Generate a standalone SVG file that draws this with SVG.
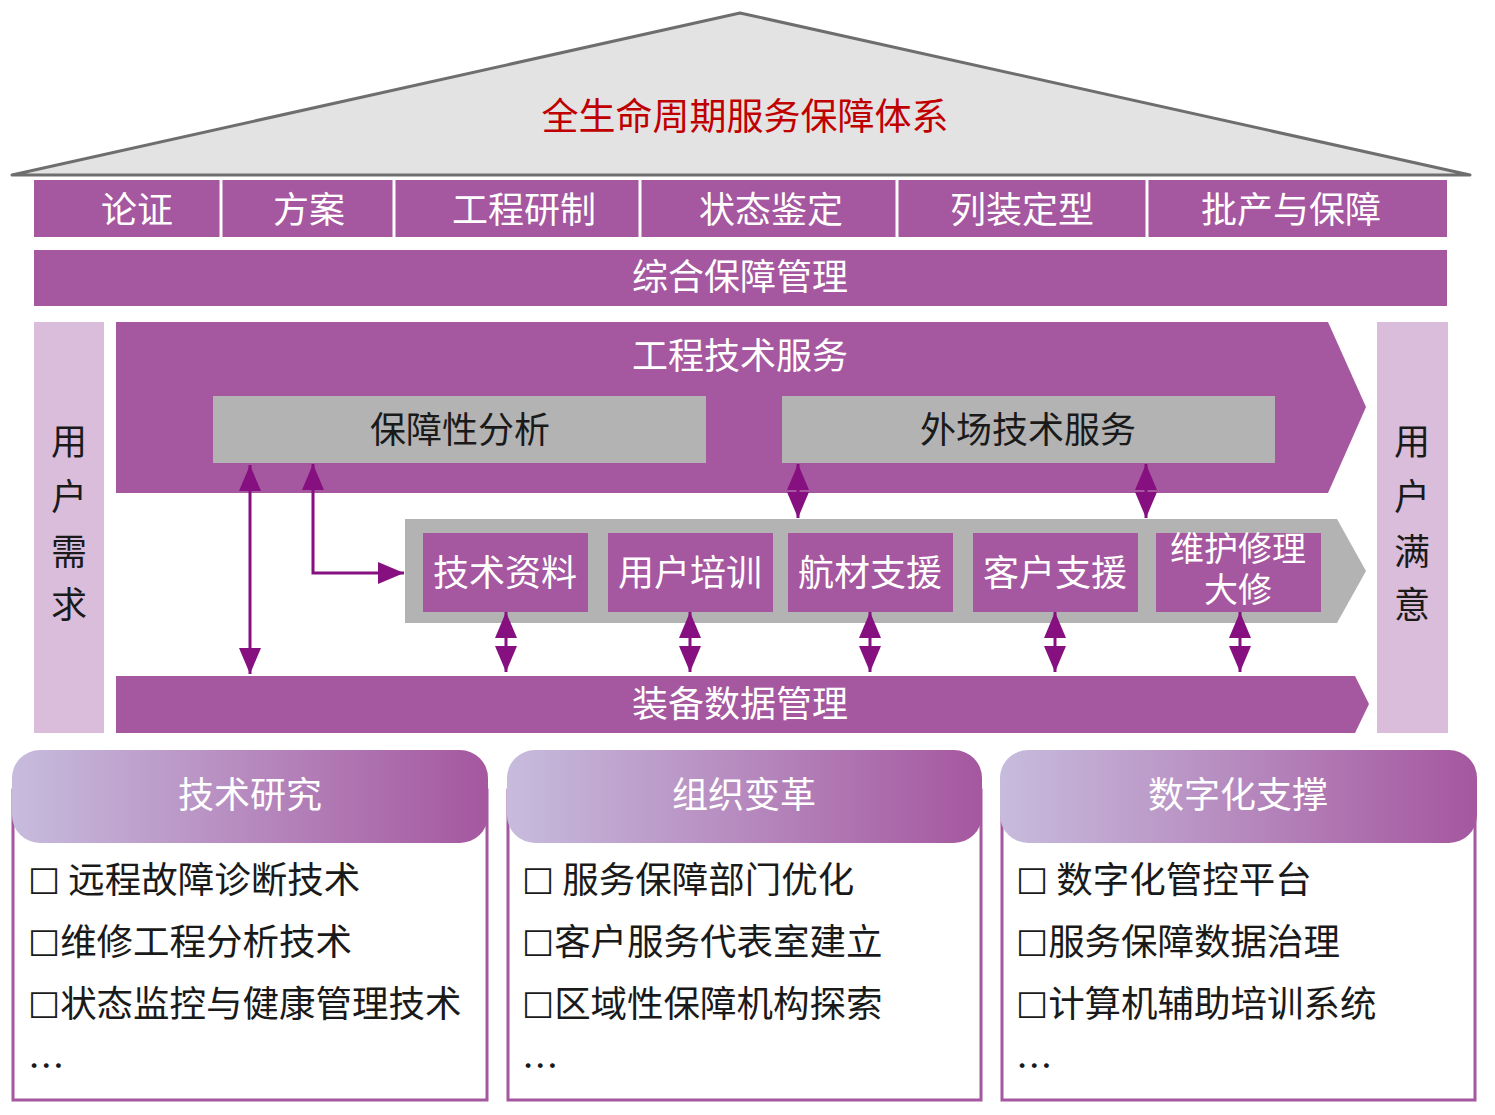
<svg xmlns="http://www.w3.org/2000/svg" width="1495" height="1115" viewBox="0 0 1495 1115">
<style>
text{font-family:"Noto Sans CJK SC","Noto Sans",sans-serif;font-size:36px;text-anchor:middle}
.w{fill:#ffffff}
.k{fill:#1a1a1a}
.it{fill:#1a1a1a;text-anchor:start;font-size:36.5px}
.sq{font-family:"DejaVu Sans",sans-serif;font-size:34px}
.pb{fill:#a5579f}
.lb{fill:#d9bdda}
.gb{fill:#b3b3b3}
.cn{stroke:#86107f;stroke-width:3;fill:none}
.box{fill:#ffffff;stroke:#a5579f;stroke-width:3}
</style>
<defs>
<marker id="ah" viewBox="0 0 26 22" refX="26" refY="11" markerWidth="26" markerHeight="22" markerUnits="userSpaceOnUse" orient="auto-start-reverse">
<path d="M0,0 L26,11 L0,22 Z" fill="#86107f"/>
</marker>
<linearGradient id="hg" x1="0" y1="0" x2="1" y2="0">
<stop offset="0" stop-color="#c7bcdd"/>
<stop offset="1" stop-color="#a5579f"/>
</linearGradient>
</defs>

<g id="roof">
<polygon points="12,175 740,13 1470,175" fill="#e3e3e3" stroke="#6e6e6e" stroke-width="3" stroke-linejoin="round"/>
<text x="745" y="130" style="fill:#c00000;font-size:37px">全生命周期服务保障体系</text>
</g>

<g id="phases">
<rect class="pb" x="34" y="180" width="1413" height="57"/>
<g stroke="#ffffff" stroke-width="3">
<line x1="221" y1="180" x2="221" y2="237"/>
<line x1="394" y1="180" x2="394" y2="237"/>
<line x1="640" y1="180" x2="640" y2="237"/>
<line x1="897" y1="180" x2="897" y2="237"/>
<line x1="1147" y1="180" x2="1147" y2="237"/>
</g>
<text class="w" x="137" y="223">论证</text>
<text class="w" x="309" y="223">方案</text>
<text class="w" x="524" y="223">工程研制</text>
<text class="w" x="771" y="223">状态鉴定</text>
<text class="w" x="1022" y="223">列装定型</text>
<text class="w" x="1291" y="223">批产与保障</text>
</g>

<g id="ils">
<rect class="pb" x="34" y="250" width="1413" height="56"/>
<text class="w" x="740" y="290">综合保障管理</text>
</g>

<g id="user-demand">
<rect class="lb" x="34" y="322" width="70" height="411"/>
<text class="k" x="69" y="455">用</text>
<text class="k" x="69" y="510">户</text>
<text class="k" x="69" y="565">需</text>
<text class="k" x="69" y="618">求</text>
</g>

<g id="user-satisfaction">
<rect class="lb" x="1377" y="322" width="71" height="411"/>
<text class="k" x="1412" y="455">用</text>
<text class="k" x="1412" y="510">户</text>
<text class="k" x="1412" y="565">满</text>
<text class="k" x="1412" y="618">意</text>
</g>

<g id="eng-tech-service">
<polygon class="pb" points="116,322 1328,322 1366,407 1328,493 116,493"/>
<text class="w" x="740" y="369">工程技术服务</text>
</g>

<g id="supportability-analysis">
<rect class="gb" x="213" y="396" width="493" height="67"/>
<text class="k" x="460" y="443">保障性分析</text>
</g>

<g id="field-service">
<rect class="gb" x="782" y="396" width="493" height="67"/>
<text class="k" x="1028" y="443">外场技术服务</text>
</g>

<g id="service-band">
<polygon class="gb" points="405,519 1337,519 1366,571 1337,623 405,623"/>
</g>
<g id="tech-data">
<rect class="pb" x="423" y="533" width="165" height="79"/>
<text class="w" x="505" y="586">技术资料</text>
</g>
<g id="user-training">
<rect class="pb" x="608" y="533" width="165" height="79"/>
<text class="w" x="690" y="586">用户培训</text>
</g>
<g id="spares-support">
<rect class="pb" x="788" y="533" width="165" height="79"/>
<text class="w" x="870" y="586">航材支援</text>
</g>
<g id="customer-support">
<rect class="pb" x="973" y="533" width="165" height="79"/>
<text class="w" x="1055" y="586">客户支援</text>
</g>
<g id="mro">
<rect class="pb" x="1156" y="533" width="165" height="79"/>
<text class="w" x="1238" y="561" style="font-size:34px"><tspan x="1238" y="561">维护修理</tspan><tspan x="1238" y="602">大修</tspan></text>
</g>

<g id="equipment-data">
<polygon class="pb" points="116,676 1355,676 1369,704 1355,733 116,733"/>
<text class="w" x="740" y="717">装备数据管理</text>
</g>

<g id="connectors">
<line class="cn" x1="250" y1="465" x2="250" y2="674" marker-start="url(#ah)" marker-end="url(#ah)"/>
<polyline class="cn" points="313,464 313,573 404,573" marker-start="url(#ah)" marker-end="url(#ah)"/>
<line class="cn" x1="798" y1="464" x2="798" y2="518" marker-start="url(#ah)" marker-end="url(#ah)"/>
<line class="cn" x1="1146" y1="464" x2="1146" y2="518" marker-start="url(#ah)" marker-end="url(#ah)"/>
<line class="cn" x1="506" y1="612" x2="506" y2="672" marker-start="url(#ah)" marker-end="url(#ah)"/>
<line class="cn" x1="690" y1="612" x2="690" y2="672" marker-start="url(#ah)" marker-end="url(#ah)"/>
<line class="cn" x1="870" y1="612" x2="870" y2="672" marker-start="url(#ah)" marker-end="url(#ah)"/>
<line class="cn" x1="1055" y1="612" x2="1055" y2="672" marker-start="url(#ah)" marker-end="url(#ah)"/>
<line class="cn" x1="1240" y1="612" x2="1240" y2="672" marker-start="url(#ah)" marker-end="url(#ah)"/>
</g>

<g id="tech-research">
<rect class="box" x="13" y="790" width="474" height="310"/>
<rect x="12" y="750" width="476" height="93" rx="28" fill="url(#hg)"/>
<text class="w" x="250" y="808">技术研究</text>
<text class="it" x="28" y="893"><tspan class="sq" dy="-3">□</tspan><tspan dy="3"> 远程故障诊断技术</tspan></text>
<text class="it" x="28" y="955"><tspan class="sq" dy="-3">□</tspan><tspan dy="3">维修工程分析技术</tspan></text>
<text class="it" x="28" y="1017"><tspan class="sq" dy="-3">□</tspan><tspan dy="3">状态监控与健康管理技术</tspan></text>
<text class="it" x="28" y="1080">…</text>
</g>

<g id="org-reform">
<rect class="box" x="508" y="790" width="473" height="310"/>
<rect x="507" y="750" width="475" height="93" rx="28" fill="url(#hg)"/>
<text class="w" x="744" y="808">组织变革</text>
<text class="it" x="522" y="893"><tspan class="sq" dy="-3">□</tspan><tspan dy="3"> 服务保障部门优化</tspan></text>
<text class="it" x="522" y="955"><tspan class="sq" dy="-3">□</tspan><tspan dy="3">客户服务代表室建立</tspan></text>
<text class="it" x="522" y="1017"><tspan class="sq" dy="-3">□</tspan><tspan dy="3">区域性保障机构探索</tspan></text>
<text class="it" x="522" y="1080">…</text>
</g>

<g id="digital-support">
<rect class="box" x="1002" y="790" width="473" height="310"/>
<rect x="1000" y="750" width="477" height="93" rx="28" fill="url(#hg)"/>
<text class="w" x="1238" y="808">数字化支撑</text>
<text class="it" x="1016" y="893"><tspan class="sq" dy="-3">□</tspan><tspan dy="3"> 数字化管控平台</tspan></text>
<text class="it" x="1016" y="955"><tspan class="sq" dy="-3">□</tspan><tspan dy="3">服务保障数据治理</tspan></text>
<text class="it" x="1016" y="1017"><tspan class="sq" dy="-3">□</tspan><tspan dy="3">计算机辅助培训系统</tspan></text>
<text class="it" x="1016" y="1080">…</text>
</g>
</svg>
